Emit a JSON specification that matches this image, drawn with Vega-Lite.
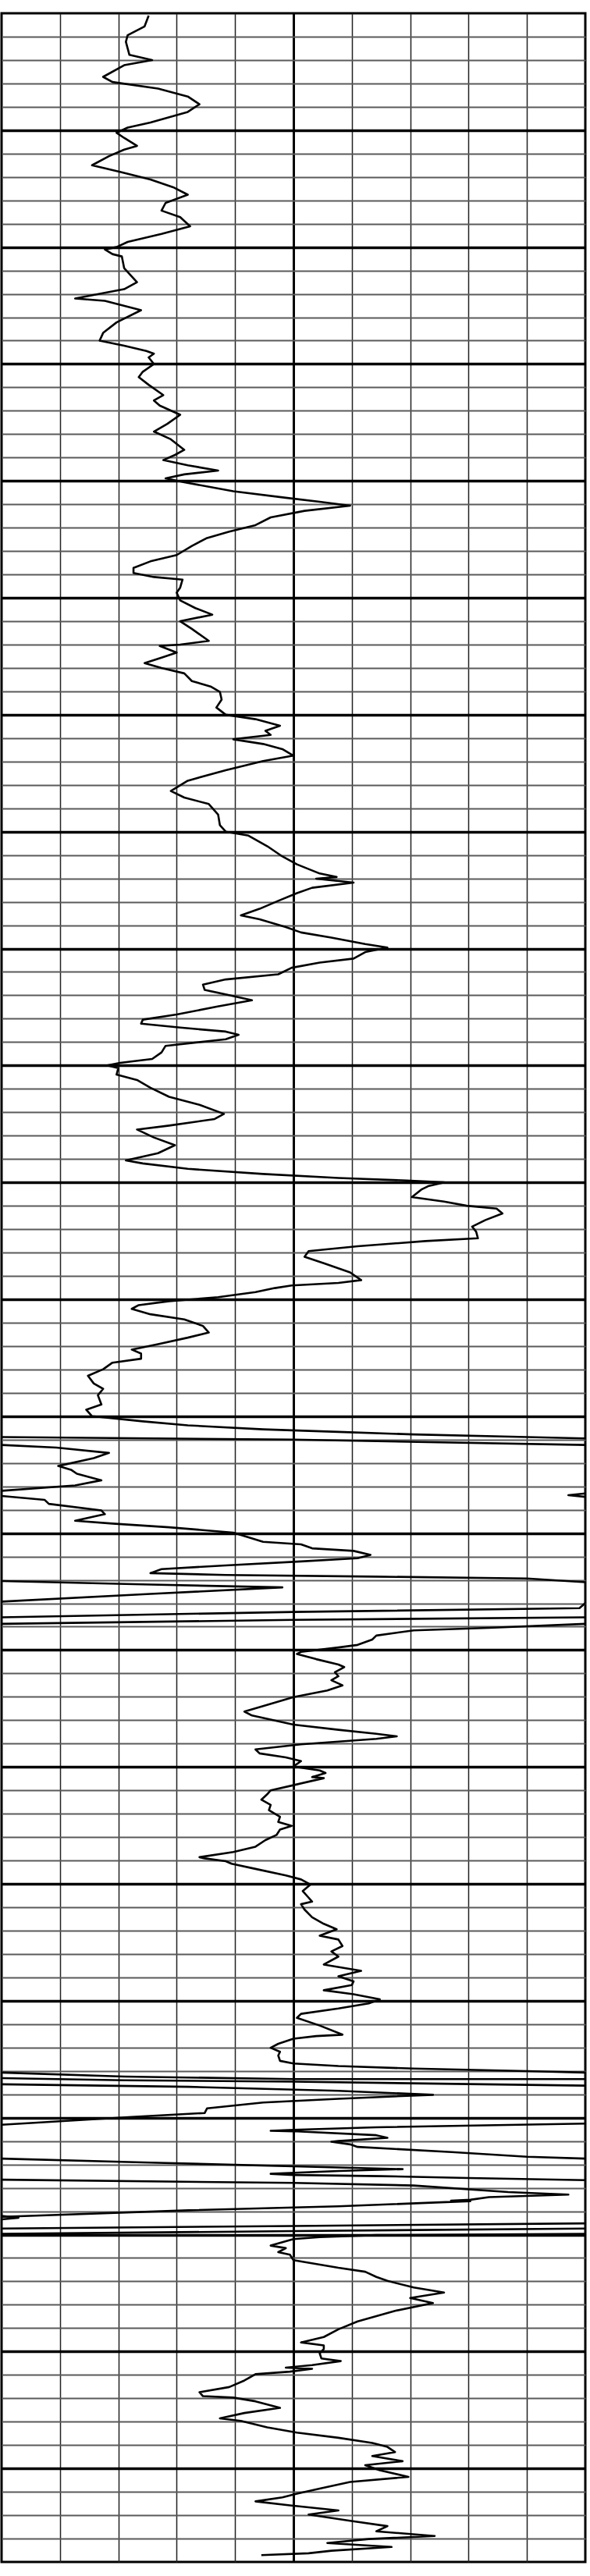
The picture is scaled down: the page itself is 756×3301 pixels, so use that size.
{
  "$schema": "https://vega.github.io/schema/vega-lite/v6.json",
  "width": 748,
  "height": 3266,
  "autosize": {"type": "none"},
  "padding": {"left": 2, "top": 17, "right": 6, "bottom": 18},
  "background": "white",
  "config": {"view": {"stroke": "black", "strokeWidth": 3}},
  "data": {"values": [
{"s":1,"x":2.52,"d":0.1},{"s":1,"x":2.45,"d":0.56},{"s":1,"x":2.16,"d":0.94},{"s":1,"x":2.13,"d":1.22},{"s":1,"x":2.19,"d":1.78},{"s":1,"x":2.58,"d":2.0},{"s":1,"x":2.1,"d":2.22},{"s":1,"x":1.74,"d":2.72},{"s":1,"x":1.9,"d":2.94},{"s":1,"x":2.68,"d":3.22},{"s":1,"x":3.19,"d":3.56},{"s":1,"x":3.39,"d":3.89},{"s":1,"x":3.19,"d":4.22},{"s":1,"x":2.55,"d":4.67},{"s":1,"x":2.16,"d":4.89},{"s":1,"x":1.97,"d":5.11},{"s":1,"x":2.1,"d":5.33},{"s":1,"x":2.32,"d":5.67},{"s":1,"x":2.1,"d":5.83},{"s":1,"x":1.84,"d":6.11},{"s":1,"x":1.55,"d":6.5},{"s":1,"x":2.03,"d":6.78},{"s":1,"x":2.55,"d":7.11},{"s":1,"x":2.94,"d":7.44},{"s":1,"x":3.19,"d":7.76},{"s":1,"x":2.81,"d":8.11},{"s":1,"x":2.74,"d":8.44},{"s":1,"x":3.06,"d":8.72},{"s":1,"x":3.23,"d":9.11},{"s":1,"x":2.74,"d":9.44},{"s":1,"x":2.16,"d":9.78},{"s":1,"x":1.97,"d":10.0},{"s":1,"x":1.77,"d":10.1},{"s":1,"x":1.9,"d":10.3},{"s":1,"x":2.06,"d":10.4},{"s":1,"x":2.1,"d":10.9},{"s":1,"x":2.32,"d":11.5},{"s":1,"x":2.1,"d":11.8},{"s":1,"x":1.26,"d":12.2},{"s":1,"x":1.77,"d":12.3},{"s":1,"x":2.39,"d":12.7},
{"s":1,"x":1.97,"d":13.22},{"s":1,"x":1.74,"d":13.67},{"s":1,"x":1.68,"d":14.0},{"s":1,"x":2.1,"d":14.22},{"s":1,"x":2.48,"d":14.44},{"s":1,"x":2.61,"d":14.56},{"s":1,"x":2.52,"d":14.72},{"s":1,"x":2.61,"d":15.0},{"s":1,"x":2.42,"d":15.33},{"s":1,"x":2.35,"d":15.56},{"s":1,"x":2.52,"d":15.89},{"s":1,"x":2.77,"d":16.33},{"s":1,"x":2.61,"d":16.56},{"s":1,"x":2.71,"d":16.78},{"s":1,"x":3.06,"d":17.17},{"s":1,"x":2.84,"d":17.56},{"s":1,"x":2.61,"d":17.89},{"s":1,"x":2.9,"d":18.22},{"s":1,"x":3.13,"d":18.67},{"s":1,"x":2.97,"d":18.89},{"s":1,"x":2.77,"d":19.11},{"s":1,"x":3.19,"d":19.33},{"s":1,"x":3.71,"d":19.56},{"s":1,"x":3.13,"d":19.72},{"s":1,"x":2.81,"d":19.89},{"s":1,"x":3.13,"d":20.06},{"s":1,"x":3.97,"d":20.44},{"s":1,"x":4.87,"d":20.72},{"s":1,"x":5.45,"d":20.89},{"s":1,"x":5.97,"d":21.06},{"s":1,"x":5.19,"d":21.28},{"s":1,"x":4.61,"d":21.56},{"s":1,"x":4.35,"d":21.89},{"s":1,"x":3.9,"d":22.17},{"s":1,"x":3.52,"d":22.44},{"s":1,"x":3.26,"d":22.78},{"s":1,"x":3.0,"d":23.17},{"s":1,"x":2.55,"d":23.44},{"s":1,"x":2.26,"d":23.72},{"s":1,"x":2.26,"d":23.94},{"s":1,"x":2.61,"d":24.11},{"s":1,"x":3.1,"d":24.22},{"s":1,"x":3.06,"d":24.56},{"s":1,"x":3.0,"d":24.78},{"s":1,"x":3.06,"d":25.11},{"s":1,"x":3.32,"d":25.44},{"s":1,"x":3.61,"d":25.72},{"s":1,"x":3.06,"d":26.0},
{"s":1,"x":3.26,"d":26.33},{"s":1,"x":3.55,"d":26.84},{"s":1,"x":3.06,"d":27.0},{"s":1,"x":2.71,"d":27.06},{"s":1,"x":3.0,"d":27.34},{"s":1,"x":2.74,"d":27.56},{"s":1,"x":2.45,"d":27.79},{"s":1,"x":2.74,"d":28.0},{"s":1,"x":3.13,"d":28.23},{"s":1,"x":3.26,"d":28.56},{"s":1,"x":3.58,"d":28.79},{"s":1,"x":3.74,"d":29.02},{"s":1,"x":3.77,"d":29.35},{"s":1,"x":3.68,"d":29.69},{"s":1,"x":3.84,"d":30.0},{"s":1,"x":4.35,"d":30.19},{"s":1,"x":4.77,"d":30.47},{"s":1,"x":4.52,"d":30.69},{"s":1,"x":4.61,"d":30.86},{"s":1,"x":4.23,"d":30.97},{"s":1,"x":3.97,"d":31.05},{"s":1,"x":4.48,"d":31.25},{"s":1,"x":4.81,"d":31.47},{"s":1,"x":5.0,"d":31.75},{"s":1,"x":4.48,"d":31.98},{"s":1,"x":3.84,"d":32.37},{"s":1,"x":3.19,"d":32.82},{"s":1,"x":2.9,"d":33.26},{"s":1,"x":3.13,"d":33.54},{"s":1,"x":3.55,"d":33.82},{"s":1,"x":3.71,"d":34.27},
{"s":1,"x":3.74,"d":34.72},{"s":1,"x":3.84,"d":35.0},{"s":1,"x":4.23,"d":35.17},{"s":1,"x":4.55,"d":35.62},{"s":1,"x":4.81,"d":36.06},{"s":1,"x":5.06,"d":36.4},{"s":1,"x":5.45,"d":36.79},{"s":1,"x":5.74,"d":36.94},{"s":1,"x":5.39,"d":37.01},{"s":1,"x":6.03,"d":37.18},{"s":1,"x":5.32,"d":37.4},{"s":1,"x":5.06,"d":37.63},{"s":1,"x":4.74,"d":37.96},{"s":1,"x":4.42,"d":38.3},{"s":1,"x":4.1,"d":38.58},{"s":1,"x":4.42,"d":38.75},{"s":1,"x":4.87,"d":39.08},{"s":1,"x":5.13,"d":39.31},{"s":1,"x":5.65,"d":39.53},{"s":1,"x":6.23,"d":39.81},{"s":1,"x":6.61,"d":39.96},{"s":1,"x":6.23,"d":40.15},{"s":1,"x":6.03,"d":40.43},{"s":1,"x":5.45,"d":40.6},{"s":1,"x":4.97,"d":40.82},{"s":1,"x":4.74,"d":41.1},{"s":1,"x":3.84,"d":41.32},{"s":1,"x":3.45,"d":41.54},{"s":1,"x":3.48,"d":41.77},{"s":1,"x":3.9,"d":41.99},{"s":1,"x":4.29,"d":42.21},
{"s":1,"x":3.7,"d":42.48},{"s":1,"x":3.0,"d":42.82},{"s":1,"x":2.42,"d":43.04},{"s":1,"x":2.39,"d":43.21},{"s":1,"x":3.06,"d":43.38},{"s":1,"x":3.84,"d":43.55},{"s":1,"x":4.06,"d":43.69},{"s":1,"x":3.84,"d":43.88},{"s":1,"x":2.81,"d":44.16},{"s":1,"x":2.74,"d":44.44},{"s":1,"x":2.58,"d":44.72},{"s":1,"x":2.03,"d":44.89},{"s":1,"x":1.81,"d":45.0},{"s":1,"x":2.0,"d":45.11},{"s":1,"x":1.97,"d":45.39},{"s":1,"x":2.32,"d":45.62},{"s":1,"x":2.55,"d":45.95},{"s":1,"x":2.87,"d":46.34},{"s":1,"x":3.39,"d":46.68},{"s":1,"x":3.81,"d":47.07},{"s":1,"x":3.65,"d":47.29},{"s":1,"x":2.87,"d":47.57},{"s":1,"x":2.32,"d":47.74},{"s":1,"x":2.61,"d":48.08},{"s":1,"x":2.97,"d":48.41},{"s":1,"x":2.68,"d":48.75},{"s":1,"x":2.13,"d":49.06},{"s":1,"x":2.42,"d":49.19},{"s":1,"x":3.19,"d":49.42},{"s":1,"x":4.48,"d":49.64},{"s":1,"x":5.77,"d":49.81},{"s":1,"x":6.94,"d":49.92},{"s":1,"x":7.58,"d":50.0},{"s":1,"x":7.32,"d":50.15},{"s":1,"x":7.19,"d":50.31},{"s":1,"x":7.03,"d":50.63},{"s":1,"x":7.58,"d":50.82},
{"s":1,"x":7.97,"d":51.0},{"s":1,"x":8.48,"d":51.12},{"s":1,"x":8.58,"d":51.33},{"s":1,"x":8.29,"d":51.61},{"s":1,"x":8.06,"d":51.89},{"s":1,"x":8.13,"d":52.11},{"s":1,"x":8.16,"d":52.39},{"s":1,"x":7.26,"d":52.51},{"s":1,"x":6.1,"d":52.73},{"s":1,"x":5.26,"d":52.94},{"s":1,"x":5.19,"d":53.18},{"s":1,"x":5.52,"d":53.46},{"s":1,"x":5.97,"d":53.85},{"s":1,"x":6.16,"d":54.18},{"s":1,"x":5.77,"d":54.3},{"s":1,"x":4.97,"d":54.41},{"s":1,"x":4.68,"d":54.52},{"s":1,"x":4.35,"d":54.69},{"s":1,"x":3.71,"d":54.91},{"s":1,"x":2.87,"d":55.08},{"s":1,"x":2.35,"d":55.25},{"s":1,"x":2.23,"d":55.41},{"s":1,"x":2.55,"d":55.64},{"s":1,"x":3.13,"d":55.86},{"s":1,"x":3.45,"d":56.14},{"s":1,"x":3.55,"d":56.42},{"s":1,"x":3.19,"d":56.64},{"s":1,"x":2.68,"d":56.92},{"s":1,"x":2.23,"d":57.15},{"s":1,"x":2.39,"d":57.32},{"s":1,"x":2.39,"d":57.54},{"s":1,"x":1.9,"d":57.71},{"s":1,"x":1.74,"d":57.99},{"s":1,"x":1.48,"d":58.27},{"s":1,"x":1.58,"d":58.6},{"s":1,"x":1.74,"d":58.83},{"s":1,"x":1.65,"d":59.1},{"s":1,"x":1.71,"d":59.5},
{"s":1,"x":1.45,"d":59.72},{"s":1,"x":1.55,"d":60.0},{"s":1,"x":2.42,"d":60.22},{"s":1,"x":3.19,"d":60.39},{"s":1,"x":4.48,"d":60.56},{"s":1,"x":5.77,"d":60.67},{"s":1,"x":7.06,"d":60.78},{"s":1,"x":9.0,"d":60.89},{"s":1,"x":10.0,"d":60.95},
{"s":2,"x":0.0,"d":60.89},{"s":2,"x":5.0,"d":61.0},{"s":2,"x":10.0,"d":61.23},
{"s":3,"x":0.0,"d":61.23},{"s":3,"x":0.94,"d":61.34},{"s":3,"x":1.84,"d":61.57},{"s":3,"x":1.58,"d":61.79},{"s":3,"x":0.97,"d":62.13},{"s":3,"x":1.19,"d":62.29},{"s":3,"x":1.29,"d":62.46},{"s":3,"x":1.71,"d":62.74},{"s":3,"x":1.26,"d":62.96},{"s":3,"x":0.0,"d":63.19},
{"s":4,"x":10.0,"d":63.3},{"s":4,"x":9.71,"d":63.38},{"s":4,"x":10.0,"d":63.45},
{"s":5,"x":0.0,"d":63.41},{"s":5,"x":0.74,"d":63.58},{"s":5,"x":0.81,"d":63.75},{"s":5,"x":1.71,"d":64.03},{"s":5,"x":1.77,"d":64.19},{"s":5,"x":1.26,"d":64.47},{"s":5,"x":1.9,"d":64.59},{"s":5,"x":2.87,"d":64.75},{"s":5,"x":3.97,"d":64.98},{"s":5,"x":4.48,"d":65.37},{"s":5,"x":5.13,"d":65.48},{"s":5,"x":5.32,"d":65.65},{"s":5,"x":6.03,"d":65.76},{"s":5,"x":6.32,"d":65.93},{"s":5,"x":6.1,"d":66.07},{"s":5,"x":5.13,"d":66.21},{"s":5,"x":3.84,"d":66.38},{"s":5,"x":2.74,"d":66.54},{"s":5,"x":2.55,"d":66.71},{"s":5,"x":3.84,"d":66.79},{"s":5,"x":6.42,"d":66.86},{"s":5,"x":9.0,"d":66.94},{"s":5,"x":10.0,"d":67.1},
{"s":6,"x":0.0,"d":67.05},{"s":6,"x":2.55,"d":67.2},{"s":6,"x":4.81,"d":67.32},{"s":6,"x":2.55,"d":67.6},{"s":6,"x":0.0,"d":67.93},
{"s":7,"x":10.0,"d":67.99},{"s":7,"x":9.9,"d":68.21},{"s":7,"x":5.0,"d":68.37},{"s":7,"x":0.0,"d":68.6},
{"s":8,"x":10.0,"d":68.6},{"s":8,"x":5.0,"d":68.71},{"s":8,"x":0.0,"d":68.88},
{"s":9,"x":10.0,"d":68.88},{"s":9,"x":8.35,"d":69.05},{"s":9,"x":7.06,"d":69.16},{"s":9,"x":6.42,"d":69.38},{"s":9,"x":6.35,"d":69.55},{"s":9,"x":6.1,"d":69.78},{"s":9,"x":5.77,"d":69.89},{"s":9,"x":5.13,"d":70.08},{"s":9,"x":5.06,"d":70.17},{"s":9,"x":5.39,"d":70.39},{"s":9,"x":5.77,"d":70.62},{"s":9,"x":5.87,"d":70.73},{"s":9,"x":5.71,"d":70.95},{"s":9,"x":5.77,"d":71.12},{"s":9,"x":5.65,"d":71.29},{"s":9,"x":5.84,"d":71.51},{"s":9,"x":5.58,"d":71.73},{"s":9,"x":5.0,"d":72.01},{"s":9,"x":4.48,"d":72.4},{"s":9,"x":4.16,"d":72.63},{"s":9,"x":4.29,"d":72.8},{"s":9,"x":5.0,"d":73.19},{"s":9,"x":5.77,"d":73.41},{"s":9,"x":6.42,"d":73.58},{"s":9,"x":6.77,"d":73.69},{"s":9,"x":6.42,"d":73.8},{"s":9,"x":5.13,"d":74.03},{"s":9,"x":4.35,"d":74.25},{"s":9,"x":4.42,"d":74.42},{"s":9,"x":4.87,"d":74.59},{"s":9,"x":5.13,"d":74.75},{"s":9,"x":5.0,"d":74.98},{"s":9,"x":5.45,"d":75.15},{"s":9,"x":5.55,"d":75.26},{"s":9,"x":5.32,"d":75.43},{"s":9,"x":5.52,"d":75.48},
{"s":9,"x":5.0,"d":75.78},{"s":9,"x":4.61,"d":76.0},{"s":9,"x":4.55,"d":76.17},{"s":9,"x":4.45,"d":76.4},{"s":9,"x":4.61,"d":76.62},{"s":9,"x":4.58,"d":76.85},{"s":9,"x":4.77,"d":77.13},{"s":9,"x":4.74,"d":77.35},{"s":9,"x":4.97,"d":77.52},{"s":9,"x":4.77,"d":77.68},{"s":9,"x":4.71,"d":77.91},{"s":9,"x":4.52,"d":78.13},{"s":9,"x":4.35,"d":78.41},{"s":9,"x":3.97,"d":78.64},{"s":9,"x":3.39,"d":78.86},{"s":9,"x":3.48,"d":78.91},{"s":9,"x":3.84,"d":79.03},{"s":9,"x":3.94,"d":79.14},{"s":9,"x":4.35,"d":79.36},{"s":9,"x":4.87,"d":79.64},{"s":9,"x":5.13,"d":79.81},{"s":9,"x":5.29,"d":80.03},{"s":9,"x":5.16,"d":80.31},{"s":9,"x":5.26,"d":80.59},{"s":9,"x":5.32,"d":80.76},{"s":9,"x":5.13,"d":80.87},{"s":9,"x":5.19,"d":81.1},{"s":9,"x":5.32,"d":81.43},{"s":9,"x":5.52,"d":81.71},{"s":9,"x":5.74,"d":81.94},{"s":9,"x":5.45,"d":82.22},{"s":9,"x":5.77,"d":82.38},{"s":9,"x":5.84,"d":82.66},{"s":9,"x":5.65,"d":82.89},{"s":9,"x":5.77,"d":83.11},{"s":9,"x":5.52,"d":83.45},{"s":9,"x":6.16,"d":83.72},{"s":9,"x":5.77,"d":83.95},{"s":9,"x":6.03,"d":84.17},
{"s":9,"x":6.0,"d":84.33},{"s":9,"x":5.52,"d":84.55},{"s":9,"x":6.03,"d":84.72},{"s":9,"x":6.48,"d":84.94},{"s":9,"x":6.29,"d":85.11},{"s":9,"x":5.77,"d":85.33},{"s":9,"x":5.13,"d":85.56},{"s":9,"x":5.06,"d":85.73},{"s":9,"x":5.45,"d":86.06},{"s":9,"x":5.84,"d":86.45},{"s":9,"x":5.39,"d":86.51},{"s":9,"x":5.0,"d":86.62},{"s":9,"x":4.74,"d":86.84},{"s":9,"x":4.61,"d":87.01},{"s":9,"x":4.77,"d":87.18},{"s":9,"x":4.74,"d":87.34},{"s":9,"x":4.77,"d":87.57},{"s":9,"x":5.0,"d":87.68},{"s":9,"x":5.77,"d":87.79},{"s":9,"x":7.06,"d":87.9},{"s":9,"x":9.0,"d":88.01},{"s":9,"x":10.0,"d":88.07},
{"s":10,"x":0.0,"d":88.07},{"s":10,"x":2.1,"d":88.24},{"s":10,"x":5.0,"d":88.35},{"s":10,"x":10.0,"d":88.35},
{"s":11,"x":0.0,"d":88.31},{"s":11,"x":2.1,"d":88.4},{"s":11,"x":5.0,"d":88.46},{"s":11,"x":10.0,"d":88.63},
{"s":12,"x":0.0,"d":88.57},{"s":12,"x":3.2,"d":88.68},{"s":12,"x":5.77,"d":88.85},{"s":12,"x":7.39,"d":89.02},{"s":12,"x":5.77,"d":89.19},{"s":12,"x":4.48,"d":89.35},{"s":12,"x":3.52,"d":89.6},{"s":12,"x":3.48,"d":89.8},{"s":12,"x":2.23,"d":89.97},{"s":12,"x":0.0,"d":90.3},
{"s":13,"x":10.0,"d":90.25},{"s":13,"x":6.42,"d":90.41},{"s":13,"x":5.0,"d":90.52},{"s":13,"x":4.61,"d":90.56},{"s":13,"x":5.0,"d":90.58},{"s":13,"x":6.42,"d":90.75},{"s":13,"x":6.61,"d":90.86},{"s":13,"x":5.77,"d":91.0},{"s":13,"x":5.65,"d":91.03},{"s":13,"x":5.97,"d":91.14},{"s":13,"x":6.1,"d":91.25},{"s":13,"x":7.71,"d":91.47},{"s":13,"x":9.0,"d":91.67},{"s":13,"x":10.0,"d":91.75},
{"s":14,"x":0.0,"d":91.75},{"s":14,"x":2.55,"d":91.92},{"s":14,"x":5.13,"d":92.09},{"s":14,"x":6.87,"d":92.2},{"s":14,"x":5.77,"d":92.28},{"s":14,"x":4.61,"d":92.4},{"s":14,"x":5.0,"d":92.45},{"s":14,"x":6.5,"d":92.5},{"s":14,"x":8.0,"d":92.58},{"s":14,"x":10.0,"d":92.67},
{"s":15,"x":0.0,"d":92.65},{"s":15,"x":5.0,"d":92.79},{"s":15,"x":7.06,"d":92.9},{"s":15,"x":8.68,"d":93.18},{"s":15,"x":9.71,"d":93.29},{"s":15,"x":8.35,"d":93.4},{"s":15,"x":8.03,"d":93.51},{"s":15,"x":7.7,"d":93.55},{"s":15,"x":8.03,"d":93.57},{"s":15,"x":5.77,"d":93.79},{"s":15,"x":3.2,"d":93.96},{"s":15,"x":0.0,"d":94.24},
{"s":16,"x":0.0,"d":94.2},{"s":16,"x":0.29,"d":94.28},{"s":16,"x":0.0,"d":94.35},
{"s":17,"x":10.0,"d":94.52},{"s":17,"x":5.0,"d":94.63},{"s":17,"x":0.0,"d":94.74},
{"s":18,"x":10.0,"d":94.74},{"s":18,"x":5.0,"d":94.85},{"s":18,"x":0.0,"d":94.97},
{"s":19,"x":10.0,"d":94.97},{"s":19,"x":6.42,"d":95.02},{"s":19,"x":5.45,"d":95.11},{"s":19,"x":5.0,"d":95.19},{"s":19,"x":4.61,"d":95.47},{"s":19,"x":4.87,"d":95.58},{"s":19,"x":4.74,"d":95.75},{"s":19,"x":4.94,"d":95.86},{"s":19,"x":5.0,"d":96.09},{"s":19,"x":5.77,"d":96.42},{"s":19,"x":6.23,"d":96.59},{"s":19,"x":6.42,"d":96.81},{"s":19,"x":6.61,"d":96.98},{"s":19,"x":7.06,"d":97.26},{"s":19,"x":7.58,"d":97.48},{"s":19,"x":7.0,"d":97.71},{"s":19,"x":7.39,"d":97.93},{"s":19,"x":6.74,"d":98.26},{"s":19,"x":6.1,"d":98.71},{"s":19,"x":5.77,"d":99.05},{"s":19,"x":5.52,"d":99.38},{"s":19,"x":5.13,"d":99.61},{"s":19,"x":5.52,"d":99.74},{"s":19,"x":5.52,"d":99.89},{"s":19,"x":5.45,"d":100.08},{"s":19,"x":5.48,"d":100.3},{"s":19,"x":5.81,"d":100.41},{"s":19,"x":5.32,"d":100.58},{"s":19,"x":4.87,"d":100.69},{"s":19,"x":5.32,"d":100.74},{"s":19,"x":4.94,"d":100.86},{"s":19,"x":4.35,"d":100.97},{"s":19,"x":4.16,"d":101.24},{"s":19,"x":3.9,"d":101.52},{"s":19,"x":3.39,"d":101.74},{"s":19,"x":3.45,"d":101.91},{"s":19,"x":3.97,"d":101.97},{"s":19,"x":4.35,"d":102.13},{"s":19,"x":4.77,"d":102.41},{"s":19,"x":4.16,"d":102.63},{"s":19,"x":3.74,"d":102.86},{"s":19,"x":4.1,"d":102.97},{"s":19,"x":4.55,"d":103.24},{"s":19,"x":5.06,"d":103.47},{"s":19,"x":5.77,"d":103.69},{"s":19,"x":6.35,"d":103.91},{"s":19,"x":6.61,"d":104.08},{"s":19,"x":6.74,"d":104.3},{"s":19,"x":6.35,"d":104.47},{"s":19,"x":6.87,"d":104.69},{"s":19,"x":6.23,"d":104.86},{"s":19,"x":6.48,"d":105.08},{"s":19,"x":6.97,"d":105.36},{"s":19,"x":5.97,"d":105.58},{"s":19,"x":5.45,"d":105.86},{"s":19,"x":5.06,"d":106.08},{"s":19,"x":4.81,"d":106.24},{"s":19,"x":4.35,"d":106.41},{"s":19,"x":4.94,"d":106.58},{"s":19,"x":5.77,"d":106.8},{"s":19,"x":5.26,"d":106.97},{"s":19,"x":5.97,"d":107.24},{"s":19,"x":6.61,"d":107.47},{"s":19,"x":6.42,"d":107.69},{"s":19,"x":7.42,"d":107.89},{"s":19,"x":6.29,"d":108.02},{"s":19,"x":5.58,"d":108.19},{"s":19,"x":6.68,"d":108.36},{"s":19,"x":5.65,"d":108.52},{"s":19,"x":5.26,"d":108.63},{"s":19,"x":4.45,"d":108.71}
  ]},
  "mark": {"type": "line", "color": "black", "strokeWidth": 2.6, "clip": true, "strokeJoin": "round"},
  "encoding": {
    "x": {
      "field": "x", "type": "quantitative",
      "scale": {"domain": [0, 10], "nice": false, "zero": false},
      "axis": {
        "title": null, "labels": false, "ticks": false, "domain": false,
        "values": [1, 2, 3, 4, 5, 6, 7, 8, 9],
        "grid": true,
        "gridColor": {"condition": {"test": "datum.value === 5", "value": "#000000"}, "value": "#222222"},
        "gridWidth": {"condition": {"test": "datum.value === 5", "value": 3}, "value": 1.5},
        "gridOpacity": 1
      }
    },
    "y": {
      "field": "d", "type": "quantitative",
      "scale": {"domain": [0, 109], "nice": false, "zero": false, "reverse": true},
      "axis": {
        "title": null, "labels": false, "ticks": false, "domain": false,
        "values": [1,2,3,4,5,6,7,8,9,10,11,12,13,14,15,16,17,18,19,20,21,22,23,24,25,26,27,28,29,30,31,32,33,34,35,36,37,38,39,40,41,42,43,44,45,46,47,48,49,50,51,52,53,54,55,56,57,58,59,60,61,62,63,64,65,66,67,68,69,70,71,72,73,74,75,76,77,78,79,80,81,82,83,84,85,86,87,88,89,90,91,92,93,94,95,96,97,98,99,100,101,102,103,104,105,106,107,108],
        "grid": true,
        "gridColor": {"condition": {"test": "datum.value % 5 === 0", "value": "#000000"}, "value": "#5a5a5a"},
        "gridWidth": {"condition": {"test": "datum.value % 5 === 0", "value": 3.5}, "value": 2},
        "gridOpacity": 1
      }
    },
    "detail": {"field": "s", "type": "nominal"},
    "order": {"field": "d", "type": "quantitative"}
  }
}
